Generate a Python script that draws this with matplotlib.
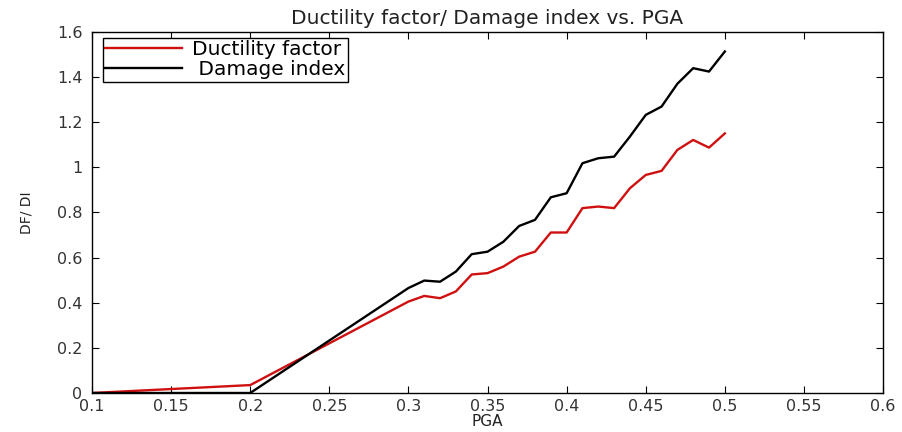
import matplotlib
matplotlib.use("Agg")
import matplotlib.pyplot as plt

pga = [0.10, 0.20, 0.30, 0.31, 0.32, 0.33, 0.34, 0.35, 0.36, 0.37, 0.38, 0.39,
       0.40, 0.41, 0.42, 0.43, 0.44, 0.45, 0.46, 0.47, 0.48, 0.49, 0.50]
ductility = [0.0, 0.035, 0.405, 0.43, 0.42, 0.45, 0.525, 0.531, 0.56, 0.604, 0.626, 0.711,
             0.711, 0.819, 0.826, 0.819, 0.907, 0.966, 0.984, 1.077, 1.121, 1.087, 1.15]
damage = [0.0, 0.0, 0.465, 0.498, 0.493, 0.538, 0.615, 0.626, 0.67, 0.74, 0.767, 0.867,
          0.885, 1.018, 1.04, 1.047, 1.136, 1.232, 1.269, 1.37, 1.439, 1.424, 1.513]
xticks = [0.1, 0.15, 0.2, 0.25, 0.3, 0.35, 0.4, 0.45, 0.5, 0.55, 0.6]
xticklabels = ["0.1", "0.15", "0.2", "0.25", "0.3", "0.35", "0.4", "0.45", "0.5", "0.55", "0.6"]
yticks = [0, 0.2, 0.4, 0.6, 0.8, 1, 1.2, 1.4, 1.6]
yticklabels = ["0", "0.2", "0.4", "0.6", "0.8", "1", "1.2", "1.4", "1.6"]

fig = plt.figure(figsize=(9.02, 4.32), dpi=100)
ax = fig.add_axes([0.102, 0.0903, 0.877, 0.836])
ax.plot(pga, ductility, color="#d01010", lw=1.7, label="Ductility factor")
ax.plot(pga, damage, color="black", lw=1.7, label=" Damage index")
ax.set_xlim(0.1, 0.6)
ax.set_ylim(0, 1.6)
ax.set_xticks(xticks)
ax.set_xticklabels(xticklabels)
ax.set_yticks(yticks)
ax.set_yticklabels(yticklabels)
ax.tick_params(direction="in", top=True, right=True, labelsize=11.5, length=5,
               colors="black", labelcolor="#333333")
ax.tick_params(axis="x", pad=4.5)
ax.tick_params(axis="y", pad=7)
for s in ax.spines.values():
    s.set_linewidth(1.0)
ax.set_xlabel("PGA", fontsize=11, labelpad=0, color="#222222")
ax.set_ylabel("DF/ DI", fontsize=10, color="#222222")
ax.yaxis.set_label_coords(-0.074, 0.5)
ax.set_title("Ductility factor/ Damage index vs. PGA", fontsize=14.5, pad=6, color="#222222")
leg = ax.legend(loc="upper left", bbox_to_anchor=(0.014, 0.983), borderaxespad=0,
                fontsize=14.5, handlelength=3.8, fancybox=False, edgecolor="black",
                framealpha=1, borderpad=0.12, labelspacing=0.05, handletextpad=0.5)
leg.get_frame().set_linewidth(1.0)
fig.savefig("out.png", dpi=100)
